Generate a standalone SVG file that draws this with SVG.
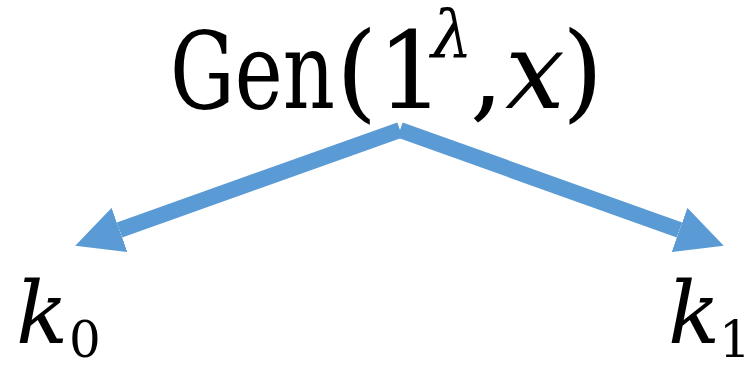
<svg xmlns="http://www.w3.org/2000/svg" width="753" height="367" viewBox="0 0 753 367">
  <style>
    .t { font-family: "DejaVu Serif", "Liberation Serif", serif; fill: #000; }
    .i { font-style: italic; }
    .c { stroke: #5B9BD5; stroke-width: 16; fill: none; }
  </style>
  <defs>
    <marker id="ah" markerUnits="userSpaceOnUse" viewBox="0 0 47 47" markerWidth="47" markerHeight="47" refX="0" refY="23.5" orient="auto">
      <path d="M0,0 L47,23.5 L0,47 z" fill="#5B9BD5"/>
    </marker>
  </defs>
  <rect width="753" height="367" fill="#fff"/>
  <g id="gen">
    <text class="t" y="108" font-size="106"><tspan x="170" textLength="165" lengthAdjust="spacingAndGlyphs">Gen</tspan><tspan x="336">(</tspan><tspan x="377">1</tspan><tspan class="i" x="431" y="57" font-size="66">λ</tspan><tspan x="470" y="108">,</tspan><tspan class="i" x="505">x</tspan><tspan x="562">)</tspan></text>
  </g>
  <g id="k0">
    <text class="t" y="343" font-size="86"><tspan class="i" x="16">k</tspan><tspan x="69" y="357" font-size="50">0</tspan></text>
  </g>
  <g id="k1">
    <text class="t" y="343" font-size="86"><tspan class="i" x="668">k</tspan><tspan x="719" y="357" font-size="50">1</tspan></text>
  </g>
  <g id="connectors">
    <line class="c" x1="400" y1="130" x2="119.5" y2="230" marker-end="url(#ah)"/>
    <line class="c" x1="400" y1="130" x2="679.5" y2="230" marker-end="url(#ah)"/>
  </g>
</svg>
